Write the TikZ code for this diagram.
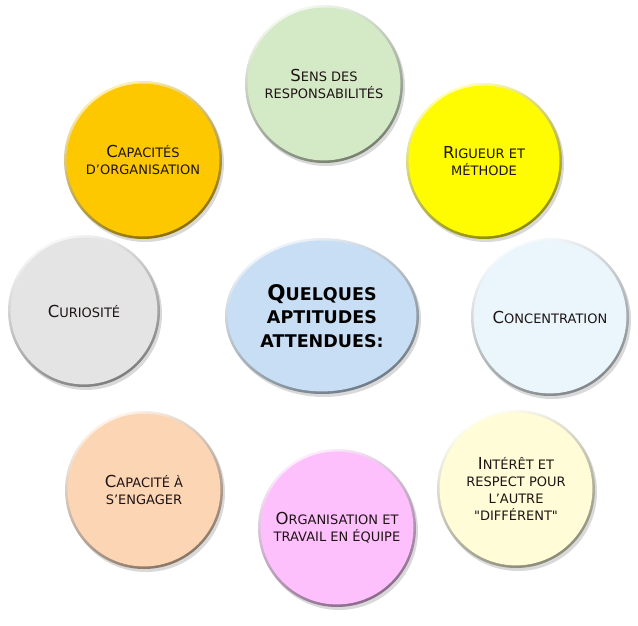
\documentclass[tikz,border=0pt]{standalone}
\usepackage{fontspec}
\setmainfont{DejaVu Sans}[Ligatures=TeXOff]
\usetikzlibrary{shadows}
\definecolor{cgreen}{HTML}{D4EAC6}
\definecolor{cgold}{HTML}{FDC800}
\definecolor{cyellow}{HTML}{FFFB00}
\definecolor{cgray}{HTML}{E4E4E4}
\definecolor{cice}{HTML}{EAF5FC}
\definecolor{cpeach}{HTML}{FCD5B5}
\definecolor{cpink}{HTML}{FDC0FD}
\definecolor{ccentre}{HTML}{C8DEF5}
\definecolor{ccream}{HTML}{FFFCD7}
\definecolor{ctext}{HTML}{1E1414}
\newcommand\cs[1]{{\fontsize{13}{17}\selectfont #1}}
\newcommand\ms[1]{{\fontsize{17.5}{23.5}\selectfont #1}}
\tikzset{
  bubtext/.style={align=center, text=ctext, inner sep=0pt, font=\fontsize{16.5}{17}\selectfont},
  centretext/.style={align=center, text=black, inner sep=0pt, font=\bfseries\fontsize{21.5}{23.5}\selectfont},
  rim/.style={drop shadow={shadow xshift=2pt, shadow yshift=-3pt, opacity=0.3},
    top color=#1!30!white, bottom color=#1!55!black, shading angle=25}
}
\newcommand\bubble[6]{%
  \shade[rim=#5] (#2,#3) circle [radius=#4pt];
  \fill[#5] (#2,#3) circle [radius=#4pt-2.6pt];
  \node[bubtext] (#1) at (#2,#3) {#6};
}
\begin{document}
\begin{tikzpicture}[x=1pt,y=-1pt]
\useasboundingbox (0,0) rectangle (638,626);
\bubble{sens}{324}{84}{79}{cgreen}{S\cs{ENS DES}\\\cs{RESPONSABILITÉS}}
\bubble{orga}{143}{160}{79}{cgold}{C\cs{APACITÉS}\\\cs{D’ORGANISATION}}
\bubble{rigueur}{484}{161}{78}{cyellow}{R\cs{IGUEUR ET}\\\cs{MÉTHODE}}
\bubble{curio}{84}{311}{76}{cgray}{C\cs{URIOSITÉ}}
\bubble{concent}{550}{317}{79}{cice}{C\cs{ONCENTRATION}}
\bubble{engager}{144}{490}{79}{cpeach}{C\cs{APACITÉ À}\\\cs{S’ENGAGER}}
\bubble{equipe}{337}{528}{79}{cpink}{O\cs{RGANISATION ET}\\\cs{TRAVAIL EN ÉQUIPE}}
\bubble{respect}{516}{489}{79}{ccream}{I\cs{NTÉRÊT ET}\\\cs{RESPECT POUR}\\\cs{L’AUTRE}\\\cs{"DIFFÉRENT"}}
\shade[rim=ccentre] (322,316) ellipse [x radius=97pt, y radius=78pt];
\fill[ccentre] (322,316) ellipse [x radius=94.4pt, y radius=75.4pt];
\node[centretext] (centre) at (322,316) {Q\ms{UELQUES}\\\ms{APTITUDES}\\\ms{ATTENDUES:}};
\end{tikzpicture}
\end{document}
